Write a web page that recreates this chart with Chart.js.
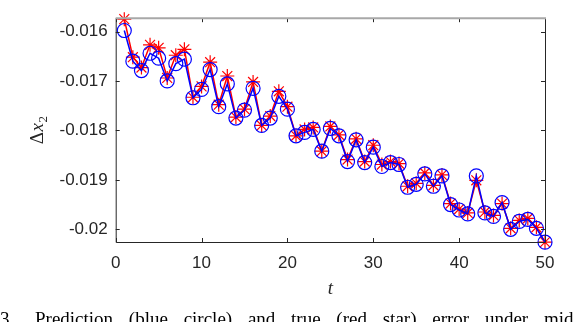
<!DOCTYPE html>
<html>
<head>
<meta charset="utf-8">
<script src="https://cdn.jsdelivr.net/npm/chart.js@4.4.0/dist/chart.umd.min.js"></script>
<style>
  html, body { margin: 0; padding: 0; background: #fff; }
  body { width: 574px; height: 322px; overflow: hidden; position: relative; }
  #wrap { position: absolute; left: 0; top: 0; width: 574px; height: 322px; }
  #caption { position: absolute; left: 0; top: 308px; white-space: nowrap;
    font-family: "Liberation Serif", "Times New Roman", serif; font-size: 19px; color: #000; }
  #caption .num { display: inline-block; width: 35px; }
  #caption .txt { word-spacing: 11px; }
</style>
</head>
<body>
<div id="wrap"><canvas id="myChart" width="574" height="322"></canvas></div>
<div id="caption"><span class="num">3.</span><span class="txt">Prediction (blue circle) and true (red star) error under middle</span></div>
<script>
// time steps
const tValues = [1, 2, 3, 4, 5, 6, 7, 8, 9, 10,
  11, 12, 13, 14, 15, 16, 17, 18, 19, 20,
  21, 22, 23, 24, 25, 26, 27, 28, 29, 30,
  31, 32, 33, 34, 35, 36, 37, 38, 39, 40,
  41, 42, 43, 44, 45, 46, 47, 48, 49, 50];

// predicted error (blue circles)
const predValues = [-0.01598, -0.01660, -0.01679, -0.01644, -0.01654, -0.01700, -0.01665, -0.01656, -0.01734, -0.01717,
  -0.01677, -0.01752, -0.01706, -0.01775, -0.01759, -0.01715, -0.01790, -0.01775, -0.01731, -0.01757,
  -0.01811, -0.01804, -0.01798, -0.01842, -0.01796, -0.01811, -0.01863, -0.01819, -0.01865, -0.01834,
  -0.01873, -0.01865, -0.01869, -0.01915, -0.01909, -0.01888, -0.01913, -0.01892, -0.01950, -0.01961,
  -0.01969, -0.01892, -0.01967, -0.01974, -0.01946, -0.02000, -0.01984, -0.01980, -0.01998, -0.02026];

// true error (red stars)
const trueValues = [-0.01575, -0.01652, -0.01673, -0.01627, -0.01633, -0.01694, -0.01648, -0.01636, -0.01733, -0.01711,
  -0.01662, -0.01748, -0.01690, -0.01773, -0.01757, -0.01702, -0.01790, -0.01771, -0.01721, -0.01752,
  -0.01811, -0.01798, -0.01794, -0.01842, -0.01792, -0.01809, -0.01859, -0.01817, -0.01863, -0.01830,
  -0.01869, -0.01863, -0.01867, -0.01913, -0.01907, -0.01886, -0.01911, -0.01890, -0.01948, -0.01959,
  -0.01967, -0.01901, -0.01965, -0.01972, -0.01948, -0.01998, -0.01982, -0.01978, -0.01996, -0.02026];

const xTicks = [0, 10, 20, 30, 40, 50];
const yTicks = [-0.02, -0.019, -0.018, -0.017, -0.016];
const yTickLabels = ['-0.02', '-0.019', '-0.018', '-0.017', '-0.016'];

let ctx = document.getElementById("myChart").getContext('2d');
const axisColor = '#262626';

// MATLAB-like box with inward ticks, plus the axis titles
const boxPlugin = {
  id: 'box',
  afterDraw(chart) {
    let c = chart.ctx;
    let a = chart.chartArea;
    let xs = chart.scales.x;
    let ys = chart.scales.y;
    c.save();
    c.lineWidth = 1;
    c.strokeStyle = axisColor;
    c.beginPath();
    c.moveTo(a.left + 0.5, a.top);
    c.lineTo(a.left + 0.5, a.bottom + 0.5);
    c.lineTo(a.right + 0.5, a.bottom + 0.5);
    c.lineTo(a.right + 0.5, a.top);
    // inward tick marks
    xTicks.forEach(v => {
      let px = Math.round(xs.getPixelForValue(v)) + 0.5;
      c.moveTo(px, a.bottom);
      c.lineTo(px, a.bottom - 4);
      c.moveTo(px, a.top);
      c.lineTo(px, a.top + 4);
    });
    yTicks.forEach(v => {
      let py = Math.round(ys.getPixelForValue(v)) + 0.5;
      c.moveTo(a.left, py);
      c.lineTo(a.left + 4, py);
      c.moveTo(a.right, py);
      c.lineTo(a.right - 4, py);
    });
    c.stroke();
    // top edge looks lighter in the figure
    c.strokeStyle = '#a8a8a8';
    c.lineWidth = 2;
    c.beginPath();
    c.moveTo(a.left, a.top);
    c.lineTo(a.right + 1, a.top);
    c.stroke();

    // x title: t
    c.fillStyle = axisColor;
    c.textAlign = 'center';
    c.textBaseline = 'alphabetic';
    c.font = 'italic 19px "Liberation Serif"';
    c.fillText('t', (a.left + a.right) / 2, 294);

    // y title: Δx₂ (x italic, 2 subscript)
    c.textAlign = 'left';
    c.translate(37, (a.top + a.bottom) / 2);
    c.rotate(-Math.PI / 2);
    c.font = '19px "Liberation Serif"';
    let w1 = c.measureText('\u0394').width;
    c.font = 'italic 19px "Liberation Serif"';
    let w2 = c.measureText('x').width;
    c.font = '13px "Liberation Serif"';
    let w3 = c.measureText('2').width;
    let x0 = -(w1 + w2 + w3 + 1) / 2;
    c.font = '19px "Liberation Serif"';
    c.fillText('\u0394', x0, 6);
    c.font = 'italic 19px "Liberation Serif"';
    c.fillText('x', x0 + w1 + 0.5, 6);
    c.font = '13px "Liberation Serif"';
    c.fillText('2', x0 + w1 + w2 + 1, 10);
    c.restore();
  }
};

let myChart = new Chart(ctx, {
  type: 'line',
  data: {
    labels: tValues,
    datasets: [{
      label: 'prediction',
      data: tValues.map((t, i) => ({x: t, y: predValues[i]})),
      borderColor: '#0000ff',
      backgroundColor: 'rgba(0,0,0,0)',
      borderWidth: 1.5,
      pointStyle: 'circle',
      pointRadius: 7,
      pointBorderWidth: 1.2,
      pointBorderColor: '#0000ff',
      pointBackgroundColor: 'rgba(0,0,0,0)',
      tension: 0,
      clip: false,
      order: 0
    }, {
      label: 'true',
      data: tValues.map((t, i) => ({x: t, y: trueValues[i]})),
      borderColor: '#ff0000',
      backgroundColor: 'rgba(0,0,0,0)',
      borderWidth: 1.5,
      pointStyle: 'star',
      pointRadius: 7,
      pointBorderWidth: 1.2,
      pointBorderColor: '#ff0000',
      tension: 0,
      clip: false,
      order: 1
    }]
  },
  options: {
    responsive: false,
    maintainAspectRatio: false,
    animation: false,
    layout: { padding: { top: 6, right: 29, left: 0, bottom: 0 } },
    plugins: {
      legend: { display: false },
      tooltip: { enabled: false }
    },
    scales: {
      x: {
        type: 'linear',
        min: 0,
        max: 50,
        grid: { display: false, drawTicks: false },
        border: { display: false },
        afterBuildTicks: s => { s.ticks = xTicks.map(v => ({value: v})); },
        afterFit: s => { s.height = 80; },
        ticks: {
          padding: 11,
          color: axisColor,
          font: { family: 'Liberation Sans', size: 17 }
        }
      },
      y: {
        type: 'linear',
        min: -0.020257,
        max: -0.015731,
        grid: { display: false, drawTicks: false },
        border: { display: false },
        afterBuildTicks: s => { s.ticks = yTicks.map(v => ({value: v})); },
        afterFit: s => { s.width = 115.7; },
        ticks: {
          padding: 8,
          color: axisColor,
          font: { family: 'Liberation Sans', size: 17 },
          callback: (v) => yTickLabels[yTicks.findIndex(t => Math.abs(t - v) < 1e-9)]
        }
      }
    }
  },
  plugins: [boxPlugin]
});
</script>
</body>
</html>
